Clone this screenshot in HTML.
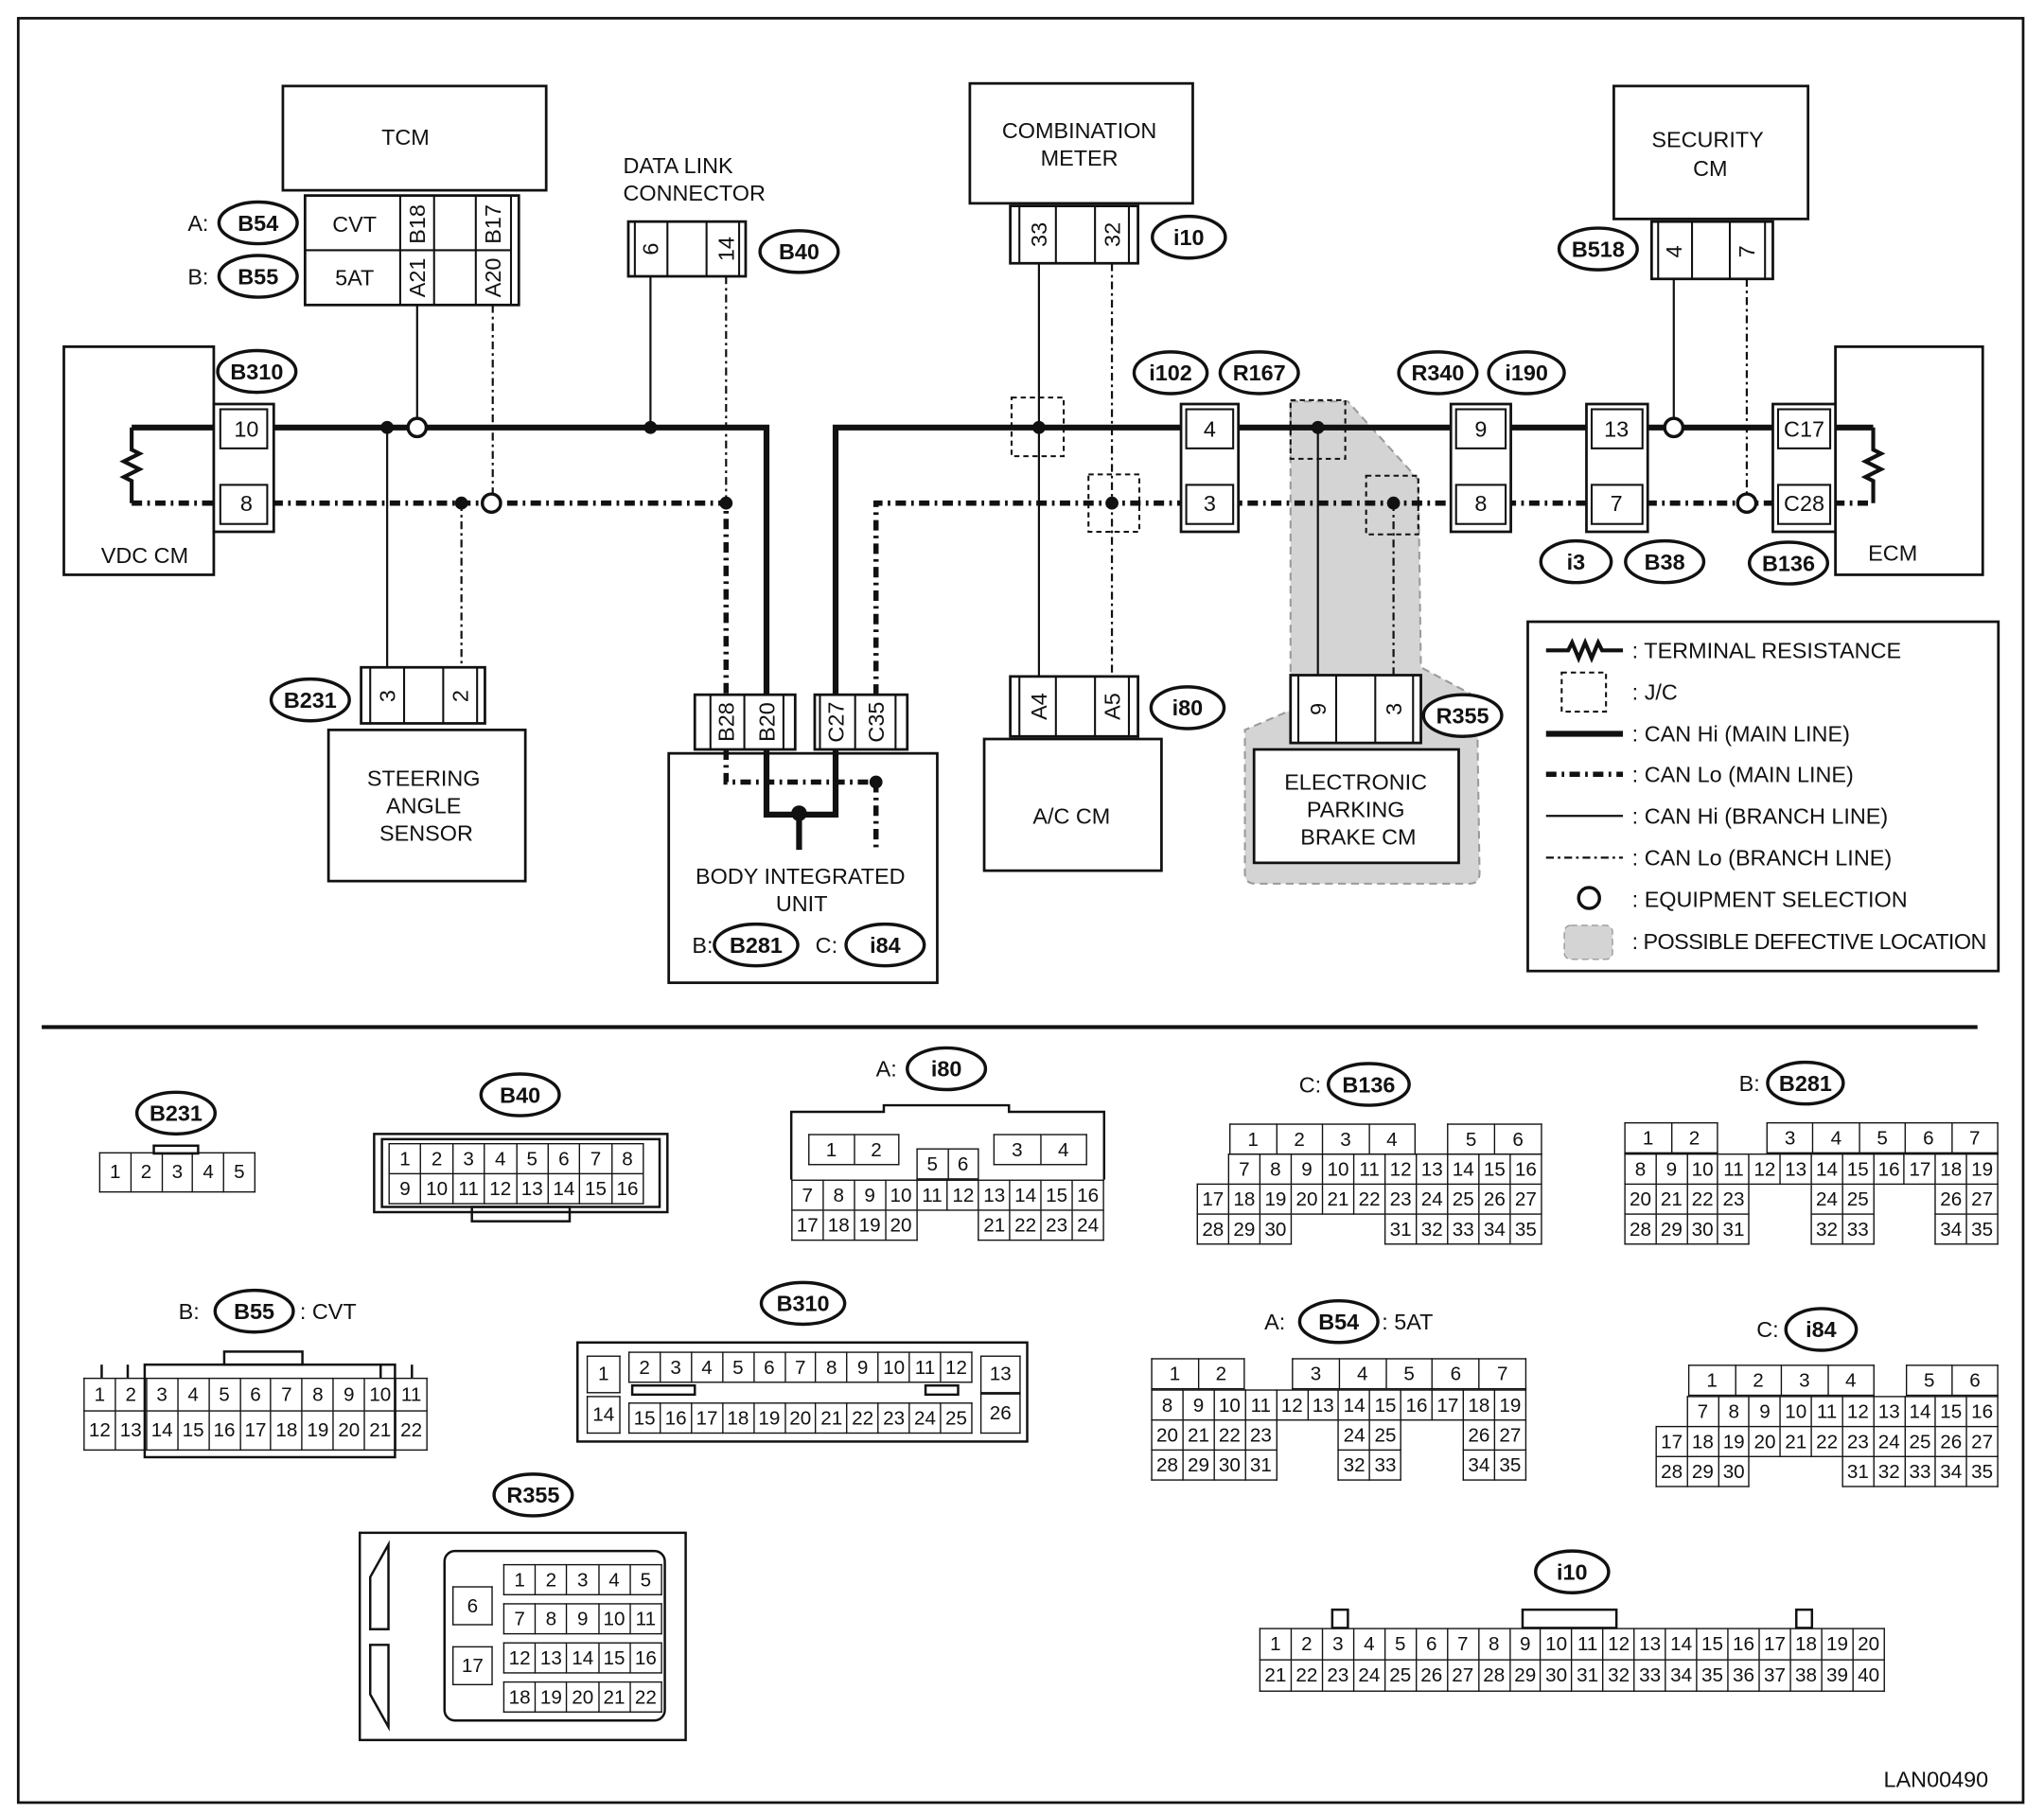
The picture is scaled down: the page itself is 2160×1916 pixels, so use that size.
<!DOCTYPE html>
<html><head><meta charset="utf-8">
<style>
html,body{margin:0;padding:0;background:#fff;}
#w{position:absolute;left:0;top:0;width:1568px;height:1391px;transform:scale(1.37755,1.37743);transform-origin:0 0;font-family:"Liberation Sans",Arial,sans-serif;}
svg{position:absolute;left:0;top:0;}
svg text{font-family:"Liberation Sans",Arial,sans-serif;font-size:17px;fill:#111;}
.g{position:absolute;border-collapse:collapse;table-layout:fixed;font:15px "Liberation Sans",Arial,sans-serif;color:#111;}
.g td{border:1.5px solid #111;text-align:center;padding:0;line-height:1;overflow:hidden;white-space:nowrap;}
.g td.e{border:none;}
.h23 tr{height:23px;}
</style></head><body>
<div id="w">
<svg width="1568" height="1391" viewBox="0 0 1568 1391">
<rect x="14" y="14" width="1538" height="1369" fill="none" stroke="#111" stroke-width="2"/>
<line x1="32" y1="788" x2="1517" y2="788" stroke="#111" stroke-width="3"/>
<path d="M990,308 L1034,308 L1088,368 L1090,512 L1133,535 L1135,670 Q1135,678 1127,678 L963,678 Q955,678 955,670 L955,560 L990,545 Z" fill="#d4d4d4" stroke="#9a9a9a" stroke-width="1.5" stroke-dasharray="6 4"/>
<g fill="none" stroke="#111">
<rect x="217" y="66" width="202" height="80" stroke-width="2"/>
<rect x="234" y="150" width="164" height="84" stroke-width="2"/>
<line x1="234" y1="192" x2="392" y2="192" stroke-width="1.5"/>
<line x1="307" y1="150" x2="307" y2="234" stroke-width="1.5"/>
<line x1="333" y1="150" x2="333" y2="234" stroke-width="1.5"/>
<line x1="365" y1="150" x2="365" y2="234" stroke-width="1.5"/>
<line x1="392" y1="150" x2="392" y2="234" stroke-width="1.5"/>
<rect x="49" y="266" width="115" height="175" stroke-width="2"/>
<rect x="482" y="170" width="90" height="42" stroke-width="2"/>
<line x1="487" y1="170" x2="487" y2="212" stroke-width="1.5"/><line x1="512" y1="170" x2="512" y2="212" stroke-width="1.5"/><line x1="542" y1="170" x2="542" y2="212" stroke-width="1.5"/><line x1="567" y1="170" x2="567" y2="212" stroke-width="1.5"/>
<rect x="744" y="64" width="171" height="92" stroke-width="2"/>
<rect x="775" y="158" width="98" height="44" stroke-width="2"/>
<line x1="782" y1="158" x2="782" y2="202" stroke-width="1.5"/><line x1="810" y1="158" x2="810" y2="202" stroke-width="1.5"/><line x1="840" y1="158" x2="840" y2="202" stroke-width="1.5"/><line x1="866" y1="158" x2="866" y2="202" stroke-width="1.5"/>
<rect x="1238" y="66" width="149" height="102" stroke-width="2"/>
<rect x="1267" y="170" width="93" height="44" stroke-width="2"/>
<line x1="1272" y1="170" x2="1272" y2="214" stroke-width="1.5"/><line x1="1298" y1="170" x2="1298" y2="214" stroke-width="1.5"/><line x1="1327" y1="170" x2="1327" y2="214" stroke-width="1.5"/><line x1="1354" y1="170" x2="1354" y2="214" stroke-width="1.5"/>
<rect x="1408" y="266" width="113" height="175" stroke-width="2"/>
<rect x="277" y="512" width="95" height="43" stroke-width="2"/>
<line x1="284" y1="512" x2="284" y2="555" stroke-width="1.5"/><line x1="310" y1="512" x2="310" y2="555" stroke-width="1.5"/><line x1="340" y1="512" x2="340" y2="555" stroke-width="1.5"/><line x1="366" y1="512" x2="366" y2="555" stroke-width="1.5"/>
<rect x="252" y="560" width="151" height="116" stroke-width="2"/>
<rect x="513" y="578" width="206" height="176" stroke-width="2"/>
<rect x="533" y="533" width="77" height="42" stroke-width="2"/>
<line x1="545" y1="533" x2="545" y2="575" stroke-width="1.5"/><line x1="571" y1="533" x2="571" y2="575" stroke-width="1.5"/><line x1="601" y1="533" x2="601" y2="575" stroke-width="1.5"/>
<rect x="625" y="533" width="71" height="42" stroke-width="2"/>
<line x1="629" y1="533" x2="629" y2="575" stroke-width="1.5"/><line x1="656" y1="533" x2="656" y2="575" stroke-width="1.5"/><line x1="687" y1="533" x2="687" y2="575" stroke-width="1.5"/>
<rect x="775" y="519" width="98" height="46" stroke-width="2"/>
<line x1="782" y1="519" x2="782" y2="565" stroke-width="1.5"/><line x1="810" y1="519" x2="810" y2="565" stroke-width="1.5"/><line x1="840" y1="519" x2="840" y2="565" stroke-width="1.5"/><line x1="866" y1="519" x2="866" y2="565" stroke-width="1.5"/>
<rect x="755" y="567" width="136" height="101" stroke-width="2"/>
<rect x="990" y="518" width="100" height="52" stroke-width="2" fill="#fff"/>
<line x1="996" y1="518" x2="996" y2="570" stroke-width="1.5"/><line x1="1025" y1="518" x2="1025" y2="570" stroke-width="1.5"/><line x1="1055" y1="518" x2="1055" y2="570" stroke-width="1.5"/><line x1="1084" y1="518" x2="1084" y2="570" stroke-width="1.5"/>
<rect x="962" y="575" width="157" height="87" stroke-width="2" fill="#fff"/>
<g stroke-width="1.5" stroke-dasharray="4 3">
<rect x="776" y="305" width="40" height="45"/><rect x="835" y="364" width="39" height="44"/>
<rect x="990" y="307" width="42" height="45"/><rect x="1048" y="365" width="40" height="45"/>
</g>
<g stroke-width="1.6">
<line x1="320" y1="234" x2="320" y2="321"/><line x1="297" y1="328" x2="297" y2="512"/><line x1="499" y1="212" x2="499" y2="328"/>
<line x1="797" y1="202" x2="797" y2="519"/><line x1="1011" y1="328" x2="1011" y2="518"/><line x1="1284" y1="214" x2="1284" y2="321"/>
</g>
<g stroke-width="1.6" stroke-dasharray="6 3 2 3">
<line x1="378" y1="234" x2="378" y2="379"/><line x1="354" y1="386" x2="354" y2="512"/><line x1="557" y1="212" x2="557" y2="386"/>
<line x1="853" y1="202" x2="853" y2="519"/><line x1="1069" y1="386" x2="1069" y2="518"/><line x1="1340" y1="214" x2="1340" y2="379"/>
</g>
<g stroke-width="4.5">
<path d="M101,328 H588 V533"/><path d="M641,533 V328 H1437"/>
<path d="M588,575 V625 H641 V575"/><line x1="613" y1="624" x2="613" y2="652"/>
</g>
<g stroke-width="4" stroke-dasharray="8 4 2 4">
<path d="M101,386 H557 V533"/><path d="M672,533 V386 H1437"/>
<path d="M557,575 V600 H672"/><line x1="672" y1="600" x2="672" y2="652"/>
</g>
<g stroke-width="3">
<path d="M101,328 V345 l6,3 l-12,6 l12,6 l-12,6 l6,3 V386"/>
<path d="M1437,328 V345 l6,3 l-12,6 l12,6 l-12,6 l6,3 V386"/>
</g>
</g>
<!-- inline connectors on top of lines -->
<g fill="#fff" stroke="#111">
<rect x="164" y="310" width="46" height="98" stroke-width="2"/>
<rect x="169" y="314" width="36" height="30" stroke-width="1.5"/><rect x="169" y="372" width="36" height="30" stroke-width="1.5"/>
<rect x="906" y="310" width="44" height="98" stroke-width="2"/>
<rect x="910" y="314" width="36" height="30" stroke-width="1.5"/><rect x="910" y="372" width="36" height="30" stroke-width="1.5"/>
<rect x="1113" y="310" width="46" height="98" stroke-width="2"/>
<rect x="1117" y="314" width="38" height="30" stroke-width="1.5"/><rect x="1117" y="372" width="38" height="30" stroke-width="1.5"/>
<rect x="1217" y="310" width="47" height="98" stroke-width="2"/>
<rect x="1221" y="314" width="39" height="30" stroke-width="1.5"/><rect x="1221" y="372" width="39" height="30" stroke-width="1.5"/>
<rect x="1360" y="310" width="48" height="98" stroke-width="2"/>
<rect x="1364" y="314" width="40" height="30" stroke-width="1.5"/><rect x="1364" y="372" width="40" height="30" stroke-width="1.5"/>
</g>
<g fill="#111">
<circle cx="297" cy="328" r="5"/><circle cx="499" cy="328" r="5"/><circle cx="354" cy="386" r="5"/><circle cx="557" cy="386" r="5"/>
<circle cx="797" cy="328" r="5"/><circle cx="853" cy="386" r="5"/><circle cx="1011" cy="328" r="5"/><circle cx="1069" cy="386" r="5"/>
<circle cx="613" cy="624" r="6"/><circle cx="672" cy="600" r="5"/>
</g>
<g fill="#fff" stroke="#111" stroke-width="2.5">
<circle cx="320" cy="328" r="7"/><circle cx="377" cy="386" r="7"/><circle cx="1284" cy="328" r="7"/><circle cx="1340" cy="386" r="7"/>
</g>
<g fill="#fff" stroke="#111" stroke-width="2.5">
<ellipse cx="198" cy="171" rx="30" ry="16"/><ellipse cx="198" cy="212" rx="30" ry="16"/>
<ellipse cx="197" cy="285" rx="30" ry="16"/><ellipse cx="613" cy="193" rx="30" ry="16"/>
<ellipse cx="912" cy="182" rx="28" ry="16"/><ellipse cx="1226" cy="191" rx="30" ry="16"/>
<ellipse cx="898" cy="286" rx="28" ry="16"/><ellipse cx="966" cy="286" rx="30" ry="16"/>
<ellipse cx="1103" cy="286" rx="30" ry="16"/><ellipse cx="1171" cy="286" rx="29" ry="16"/>
<ellipse cx="1209" cy="431" rx="27" ry="16"/><ellipse cx="1277" cy="431" rx="30" ry="16"/><ellipse cx="1372" cy="432" rx="30" ry="16"/>
<ellipse cx="238" cy="537" rx="30" ry="16"/><ellipse cx="911" cy="543" rx="28" ry="16"/><ellipse cx="1122" cy="549" rx="30" ry="16"/>
<ellipse cx="580" cy="725" rx="32" ry="16"/><ellipse cx="679" cy="725" rx="30" ry="16"/>
<ellipse cx="135" cy="854" rx="30" ry="16"/><ellipse cx="399" cy="840" rx="30" ry="16"/><ellipse cx="726" cy="820" rx="30" ry="16"/>
<ellipse cx="1050" cy="832" rx="31" ry="16"/><ellipse cx="1385" cy="831" rx="29" ry="16"/>
<ellipse cx="195" cy="1006" rx="30" ry="16"/><ellipse cx="616" cy="1000" rx="32" ry="16"/><ellipse cx="1027" cy="1014" rx="30" ry="16"/>
<ellipse cx="1397" cy="1020" rx="27" ry="16"/><ellipse cx="409" cy="1147" rx="30" ry="16"/><ellipse cx="1206" cy="1206" rx="28" ry="16"/>
</g>
<g text-anchor="middle" font-weight="bold">
<text x="198" y="177">B54</text><text x="198" y="218">B55</text><text x="197" y="291">B310</text><text x="613" y="199">B40</text>
<text x="912" y="188">i10</text><text x="1226" y="197">B518</text><text x="898" y="292">i102</text><text x="966" y="292">R167</text>
<text x="1103" y="292">R340</text><text x="1171" y="292">i190</text><text x="1209" y="437">i3</text><text x="1277" y="437">B38</text>
<text x="1372" y="438">B136</text><text x="238" y="543">B231</text><text x="911" y="549">i80</text><text x="1122" y="555">R355</text>
<text x="580" y="731">B281</text><text x="679" y="731">i84</text>
<text x="135" y="860">B231</text><text x="399" y="846">B40</text><text x="726" y="826">i80</text><text x="1050" y="838">B136</text>
<text x="1385" y="837">B281</text><text x="195" y="1012">B55</text><text x="616" y="1006">B310</text><text x="1027" y="1020">B54</text>
<text x="1397" y="1026">i84</text><text x="409" y="1153">R355</text><text x="1206" y="1212">i10</text>
</g>
<g text-anchor="middle">
<text x="311" y="111">TCM</text><text x="828" y="106">COMBINATION</text><text x="828" y="127">METER</text>
<text x="1310" y="113">SECURITY</text><text x="1312" y="135">CM</text>
<text x="111" y="432">VDC CM</text><text x="1452" y="430">ECM</text>
<text x="325" y="603">STEERING</text><text x="325" y="624">ANGLE</text><text x="327" y="645">SENSOR</text>
<text x="614" y="678">BODY INTEGRATED</text><text x="615" y="699">UNIT</text>
<text x="822" y="632">A/C CM</text>
<text x="1040" y="606">ELECTRONIC</text><text x="1040" y="627">PARKING</text><text x="1042" y="648">BRAKE CM</text>
<text x="152" y="177">A:</text><text x="152" y="218">B:</text><text x="272" y="178">CVT</text><text x="272" y="219">5AT</text>
<text x="539" y="731">B:</text><text x="634" y="731">C:</text>
<text x="189" y="335">10</text><text x="189" y="392">8</text><text x="928" y="335">4</text><text x="928" y="392">3</text>
<text x="1136" y="335">9</text><text x="1136" y="392">8</text><text x="1240" y="335">13</text><text x="1240" y="392">7</text>
<text x="1384" y="335">C17</text><text x="1384" y="392">C28</text>
<text x="680" y="826">A:</text><text x="1005" y="838">C:</text><text x="1342" y="837">B:</text><text x="145" y="1012">B:</text>
<text x="978" y="1020">A:</text><text x="1356" y="1026">C:</text>
</g>
<text x="478" y="133">DATA LINK</text><text x="478" y="154">CONNECTOR</text>
<text x="230" y="1012">: CVT</text><text x="1060" y="1020">: 5AT</text>
<text x="1445" y="1371" font-size="18">LAN00490</text>
<g text-anchor="middle">
<text transform="translate(320,172) rotate(-90)" dy="6">B18</text><text transform="translate(378,172) rotate(-90)" dy="6">B17</text>
<text transform="translate(320,213) rotate(-90)" dy="6">A21</text><text transform="translate(378,213) rotate(-90)" dy="6">A20</text>
<text transform="translate(499,191) rotate(-90)" dy="6">6</text><text transform="translate(557,191) rotate(-90)" dy="6">14</text>
<text transform="translate(797,180) rotate(-90)" dy="6">33</text><text transform="translate(853,180) rotate(-90)" dy="6">32</text>
<text transform="translate(1284,193) rotate(-90)" dy="6">4</text><text transform="translate(1340,193) rotate(-90)" dy="6">7</text>
<text transform="translate(297,534) rotate(-90)" dy="6">3</text><text transform="translate(353,534) rotate(-90)" dy="6">2</text>
<text transform="translate(557,554) rotate(-90)" dy="6">B28</text><text transform="translate(588,554) rotate(-90)" dy="6">B20</text>
<text transform="translate(641,554) rotate(-90)" dy="6">C27</text><text transform="translate(672,554) rotate(-90)" dy="6">C35</text>
<text transform="translate(797,542) rotate(-90)" dy="6">A4</text><text transform="translate(853,542) rotate(-90)" dy="6">A5</text>
<text transform="translate(1011,544) rotate(-90)" dy="6">9</text><text transform="translate(1069,544) rotate(-90)" dy="6">3</text>
</g>
<rect x="1172" y="477" width="361" height="268" fill="none" stroke="#111" stroke-width="2"/>
<g fill="none" stroke="#111">
<path d="M1186,499 H1203 l3,-6 l5,12 l5,-12 l5,12 l5,-12 l3,6 H1245" stroke-width="3"/>
<rect x="1198" y="516" width="34" height="30" stroke-width="1.5" stroke-dasharray="4 3"/>
<line x1="1186" y1="563" x2="1245" y2="563" stroke-width="4.5"/>
<line x1="1186" y1="594" x2="1245" y2="594" stroke-width="4" stroke-dasharray="8 4 2 4"/>
<line x1="1186" y1="626" x2="1245" y2="626" stroke-width="1.6"/>
<line x1="1186" y1="658" x2="1245" y2="658" stroke-width="1.6" stroke-dasharray="6 3 2 3"/>
<circle cx="1219" cy="689" r="8" stroke-width="2.5"/>
</g>
<rect x="1200" y="710" width="37" height="26" rx="5" fill="#d4d4d4" stroke="#9a9a9a" stroke-dasharray="5 3"/>
<g font-size="15.5">
<text x="1252" y="505">: TERMINAL RESISTANCE</text><text x="1252" y="537">: J/C</text>
<text x="1252" y="569">: CAN Hi (MAIN LINE)</text><text x="1252" y="600">: CAN Lo (MAIN LINE)</text>
<text x="1252" y="632">: CAN Hi (BRANCH LINE)</text><text x="1252" y="664">: CAN Lo (BRANCH LINE)</text>
<text x="1252" y="696">: EQUIPMENT SELECTION</text><text x="1252" y="728" textLength="272">: POSSIBLE DEFECTIVE LOCATION</text>
</g>
<g fill="none" stroke="#111" stroke-width="1.8">
<rect x="118" y="879" width="34" height="6"/>
<rect x="287" y="870" width="225" height="60"/><rect x="293" y="874" width="213" height="52"/>
<rect x="362" y="926" width="75" height="11"/>
<polyline points="607,905 607,853 678,853 678,848 774,848 774,853 847,853 847,905"/>
<rect x="172" y="1037" width="60" height="10"/>
<rect x="111" y="1047" width="192" height="71"/>
<line x1="78" y1="1047" x2="78" y2="1057"/><line x1="98" y1="1047" x2="98" y2="1057"/><line x1="292" y1="1047" x2="292" y2="1057"/><line x1="316" y1="1047" x2="316" y2="1057"/>
<rect x="443" y="1030" width="345" height="76"/>
<rect x="485" y="1063" width="48" height="7"/><rect x="710" y="1063" width="25" height="7"/>
<rect x="276" y="1176" width="250" height="159"/>
<rect x="341" y="1190" width="169" height="130" rx="8"/>
<path d="M298,1185 L284,1210 V1250 L298,1250 Z"/><path d="M298,1262 L284,1262 V1300 L298,1325 Z"/>
<rect x="1022" y="1235" width="12" height="14"/><rect x="1168" y="1235" width="72" height="14"/><rect x="1378" y="1235" width="12" height="14"/>
</g>
</svg>

<table class="g" style="left:76px;top:884px;width:120px"><tr style="height:30px"><td>1<td>2<td>3<td>4<td>5</tr></table>
<table class="g h23" style="left:298px;top:877px;width:196px"><tr><td>1<td>2<td>3<td>4<td>5<td>6<td>7<td>8</tr><tr><td>9<td>10<td>11<td>12<td>13<td>14<td>15<td>16</tr></table>

<table class="g h23" style="left:620px;top:870px;width:70px"><tr><td>1<td>2</tr></table>
<table class="g h23" style="left:762px;top:870px;width:72px"><tr><td>3<td>4</tr></table>
<table class="g h23" style="left:703px;top:881px;width:48px"><tr><td>5<td>6</tr></table>
<table class="g h23" style="left:607px;top:905px;width:240px"><tr><td>7<td>8<td>9<td>10<td>11<td>12<td>13<td>14<td>15<td>16</tr><tr><td>17<td>18<td>19<td>20<td class="e"><td class="e"><td>21<td>22<td>23<td>24</tr></table>

<table class="g h23" style="left:943px;top:862px;width:143px"><tr><td>1<td>2<td>3<td>4</tr></table>
<table class="g h23" style="left:1110px;top:862px;width:73px"><tr><td>5<td>6</tr></table>
<table class="g h23" style="left:918px;top:885px;width:265px"><tr><td class="e"><td>7<td>8<td>9<td>10<td>11<td>12<td>13<td>14<td>15<td>16</tr><tr><td>17<td>18<td>19<td>20<td>21<td>22<td>23<td>24<td>25<td>26<td>27</tr><tr><td>28<td>29<td>30<td class="e"><td class="e"><td class="e"><td>31<td>32<td>33<td>34<td>35</tr></table>

<table class="g h23" style="left:1246px;top:861px;width:72px"><tr><td>1<td>2</tr></table>
<table class="g h23" style="left:1355px;top:861px;width:178px"><tr><td>3<td>4<td>5<td>6<td>7</tr></table>
<table class="g h23" style="left:1246px;top:885px;width:287px"><tr><td>8<td>9<td>10<td>11<td>12<td>13<td>14<td>15<td>16<td>17<td>18<td>19</tr><tr><td>20<td>21<td>22<td>23<td class="e"><td class="e"><td>24<td>25<td class="e"><td class="e"><td>26<td>27</tr><tr><td>28<td>29<td>30<td>31<td class="e"><td class="e"><td>32<td>33<td class="e"><td class="e"><td>34<td>35</tr></table>

<table class="g h23" style="left:883px;top:1042px;width:72px"><tr><td>1<td>2</tr></table>
<table class="g h23" style="left:991px;top:1042px;width:180px"><tr><td>3<td>4<td>5<td>6<td>7</tr></table>
<table class="g h23" style="left:883px;top:1066px;width:288px"><tr><td>8<td>9<td>10<td>11<td>12<td>13<td>14<td>15<td>16<td>17<td>18<td>19</tr><tr><td>20<td>21<td>22<td>23<td class="e"><td class="e"><td>24<td>25<td class="e"><td class="e"><td>26<td>27</tr><tr><td>28<td>29<td>30<td>31<td class="e"><td class="e"><td>32<td>33<td class="e"><td class="e"><td>34<td>35</tr></table>

<table class="g h23" style="left:1295px;top:1047px;width:143px"><tr><td>1<td>2<td>3<td>4</tr></table>
<table class="g h23" style="left:1462px;top:1047px;width:71px"><tr><td>5<td>6</tr></table>
<table class="g h23" style="left:1270px;top:1071px;width:263px"><tr><td class="e"><td>7<td>8<td>9<td>10<td>11<td>12<td>13<td>14<td>15<td>16</tr><tr><td>17<td>18<td>19<td>20<td>21<td>22<td>23<td>24<td>25<td>26<td>27</tr><tr><td>28<td>29<td>30<td class="e"><td class="e"><td class="e"><td>31<td>32<td>33<td>34<td>35</tr></table>

<table class="g" style="left:64px;top:1057px;width:264px"><tr style="height:25px"><td>1<td>2<td>3<td>4<td>5<td>6<td>7<td>8<td>9<td>10<td>11</tr><tr style="height:30px"><td>12<td>13<td>14<td>15<td>16<td>17<td>18<td>19<td>20<td>21<td>22</tr></table>

<table class="g" style="left:450px;top:1040px;width:26px"><tr style="height:28px"><td>1</tr></table>
<table class="g" style="left:450px;top:1071px;width:26px"><tr style="height:28px"><td>14</tr></table>
<table class="g h23" style="left:482px;top:1037px;width:264px"><tr><td>2<td>3<td>4<td>5<td>6<td>7<td>8<td>9<td>10<td>11<td>12</tr></table>
<table class="g h23" style="left:482px;top:1076px;width:264px"><tr><td>15<td>16<td>17<td>18<td>19<td>20<td>21<td>22<td>23<td>24<td>25</tr></table>
<table class="g" style="left:752px;top:1040px;width:31px"><tr style="height:28px"><td>13</tr></table>
<table class="g" style="left:752px;top:1069px;width:31px"><tr style="height:30px"><td>26</tr></table>

<table class="g" style="left:347px;top:1217px;width:31px"><tr style="height:29px"><td>6</tr></table>
<table class="g" style="left:347px;top:1263px;width:31px"><tr style="height:29px"><td>17</tr></table>
<table class="g h23" style="left:386px;top:1200px;width:122px"><tr><td>1<td>2<td>3<td>4<td>5</tr></table>
<table class="g h23" style="left:386px;top:1230px;width:122px"><tr><td>7<td>8<td>9<td>10<td>11</tr></table>
<table class="g h23" style="left:386px;top:1260px;width:122px"><tr><td>12<td>13<td>14<td>15<td>16</tr></table>
<table class="g h23" style="left:386px;top:1290px;width:122px"><tr><td>18<td>19<td>20<td>21<td>22</tr></table>

<table class="g" style="left:966px;top:1249px;width:480px"><tr style="height:24px"><td>1<td>2<td>3<td>4<td>5<td>6<td>7<td>8<td>9<td>10<td>11<td>12<td>13<td>14<td>15<td>16<td>17<td>18<td>19<td>20</tr><tr style="height:24px"><td>21<td>22<td>23<td>24<td>25<td>26<td>27<td>28<td>29<td>30<td>31<td>32<td>33<td>34<td>35<td>36<td>37<td>38<td>39<td>40</tr></table>
</div>
</body></html>
